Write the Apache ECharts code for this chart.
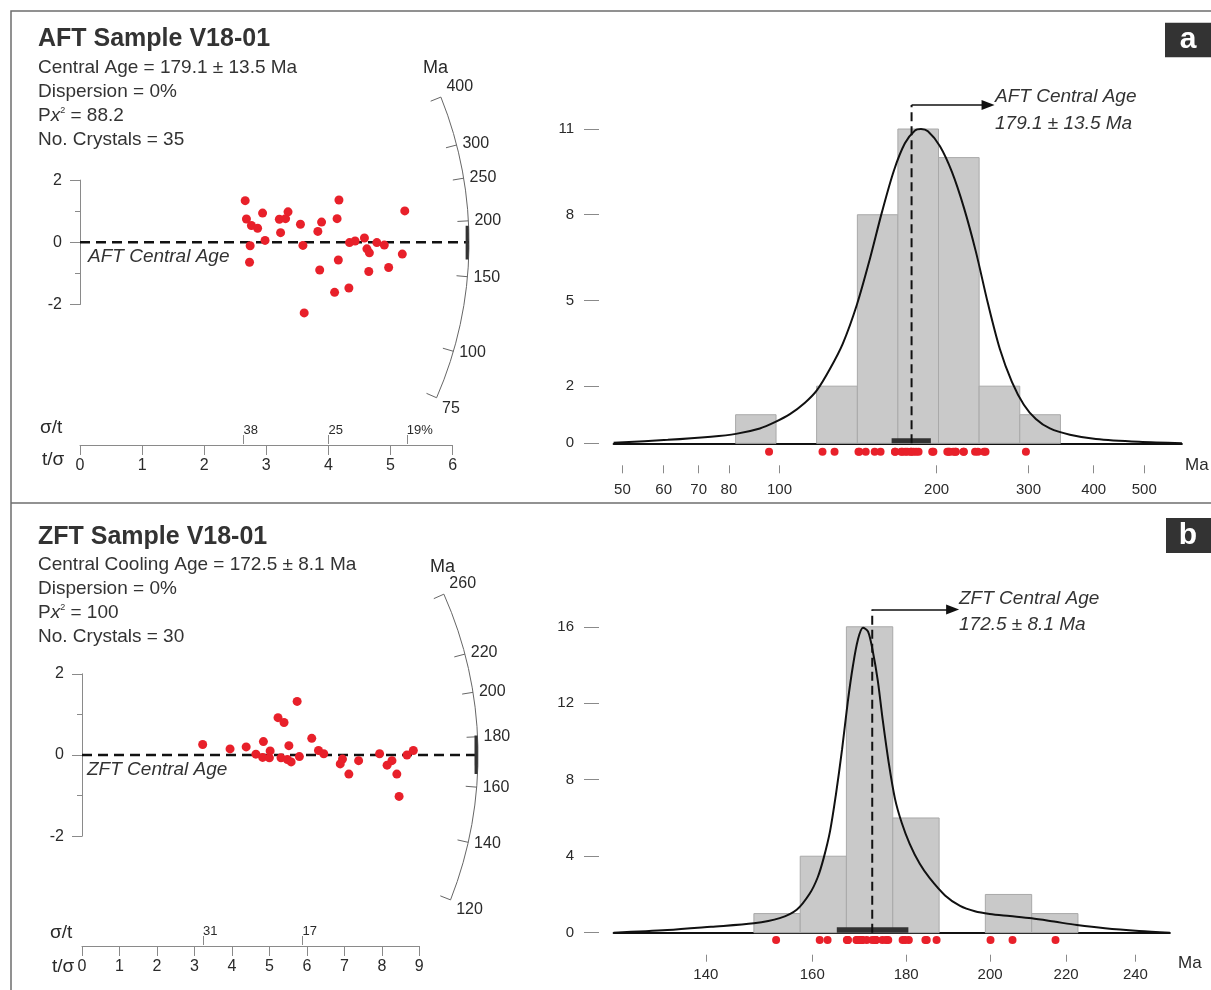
<!DOCTYPE html>
<html>
<head>
<meta charset="utf-8">
<title>V18-01 AFT / ZFT radial plots and age histograms</title>
<script src="https://cdn.jsdelivr.net/npm/echarts@6/dist/echarts.min.js"></script>
<style>
  html, body { margin: 0; padding: 0; background: #fff; }
  #chart { width: 1211px; height: 990px; }
</style>
</head>
<body>
<div id="chart"></div>
<script>
// ---------- panel a : AFT ----------
const aftCentral = 179.1;
const aftPrecision = [2.66, 2.68, 2.76, 2.86, 2.74, 2.73, 2.94, 2.98, 3.21, 3.31, 3.35, 3.23, 3.55, 3.59, 3.61, 3.83, 3.89,
  3.86, 4.17, 4.14, 4.16, 4.10, 4.33, 4.34, 4.43, 4.58, 4.62, 4.66, 4.65, 4.78, 4.90, 4.97, 5.19, 5.23];
const aftStdEst = [1.34, 0.75, 0.54, 0.45, -0.11, -0.64, 0.94, 0.06, 0.74, 0.76, 0.98, 0.31, 0.58, -0.10, -2.27, 0.35, 0.65,
  -0.89, 1.36, 0.76, -0.57, -1.61, -1.47, -0.01, 0.04, 0.14, -0.21, -0.34, -0.94, -0.01, -0.09, -0.81, -0.38, 1.01];
const aftGrainAges = [296.6, 237, 217.8, 209.7, 172, 141.7, 246.6, 182.7, 225.5, 225.3, 240, 197.2, 210.9, 174.2, 95.5, 196.2,
  211.7, 142.2, 248.2, 215.2, 156.2, 120.9, 127.5, 178.7, 180.7, 184.7, 171.1, 166.5, 146.3, 178.7, 175.8, 152.2, 166.5, 217.3];
const aftBinEdges = [82.4, 98.5, 117.8, 141.0, 168.6, 201.7, 241.3, 288.7, 345.4];
const aftBinCounts = [1, 0, 2, 8, 11, 10, 2, 1];
const aftKdeAges = [48.1, 61.1, 73.9, 82.5, 91.7, 98.0, 104.7, 111.9, 117.9, 124.9, 132.3, 140.7, 149.0, 157.2, 165.7,
  173.9, 181.8, 186.7, 192.5, 203.0, 214.0, 225.6, 237.9, 250.8, 264.4, 278.8, 293.9, 309.9, 329.7, 360.1, 403.9, 488.4, 590.3];
const aftKdeCounts = [0.02, 0.12, 0.23, 0.33, 0.52, 0.74, 1.02, 1.42, 1.85, 2.6, 3.5, 4.85, 6.45, 8.1, 9.55,
  10.5, 10.95, 11.0, 10.92, 10.4, 9.5, 8.25, 6.7, 4.9, 3.3, 2.15, 1.35, 0.85, 0.52, 0.3, 0.15, 0.05, 0];
const aftErrBar = [164, 195];
const aftArcTicks = [75, 100, 150, 200, 250, 300, 400];
const aftRelErrTicks = [38, 25, 19];
const aftHistTicksX = [50, 60, 70, 80, 100, 200, 300, 400, 500];
const aftHistTicksY = [0, 2, 5, 8, 11];
const aftStats = ['Central Age = 179.1 \u00b1 13.5 Ma', 'Dispersion = 0%', '88.2', 'No. Crystals = 35'];

// ---------- panel b : ZFT ----------
const zftCentral = 172.5;
const zftPrecision = [3.22, 3.95, 4.38, 4.64, 4.84, 4.82, 5.00, 5.02, 5.23, 5.39, 5.31, 5.48, 5.52, 5.58, 5.74, 5.80, 6.13,
  6.31, 6.45, 6.95, 6.89, 7.12, 7.38, 7.94, 8.14, 8.27, 8.40, 8.46, 8.67, 8.84];
const zftStdEst = [0.26, 0.15, 0.20, 0.02, 0.33, -0.06, -0.07, 0.10, 0.92, 0.80, -0.07, -0.11, 0.23, -0.17, 1.32, -0.04, 0.41,
  0.11, 0.03, -0.10, -0.22, -0.47, -0.14, 0.03, -0.25, -0.14, -0.47, -1.02, 0.00, 0.11];
const zftGrainAges = [187.0, 179.2, 180.6, 173.2, 184.7, 170.4, 170.1, 176.0, 205.7, 200.1, 170.2, 169.1, 179.8, 167.3, 217.1,
  171.3, 184.4, 175.5, 173.3, 170.0, 167.1, 161.5, 169.3, 173.2, 167.3, 169.6, 163.1, 152.9, 172.5, 174.7];
const zftBinEdges = [148.7, 157.6, 167.0, 177.0, 187.6, 198.8, 210.7, 223.3];
const zftBinCounts = [1, 4, 16, 6, 0, 2, 1];
const zftKdeAges = [124.7, 133.4, 140.9, 148.7, 153.6, 156.9, 159.5, 161.1, 162.3, 163.6, 164.8, 166.1, 167.3, 168.4, 169.4,
  170.5, 171.6, 172.6, 173.7, 174.8, 176.1, 177.5, 179.0, 180.8, 183.1, 185.4, 189.0, 192.6, 196.2, 199.9, 205.0,
  210.7, 216.7, 223.0, 231.0, 241.1, 250.6];
const zftKdeCounts = [0, 0.14, 0.31, 0.49, 0.76, 1.2, 2.05, 2.9, 3.9, 5.3, 7.2, 9.6, 12.1, 14.0, 15.3,
  15.95, 15.75, 14.75, 13.2, 11.1, 8.9, 7.0, 5.75, 4.65, 3.6, 2.85, 1.95, 1.4, 1.12, 0.98, 0.87,
  0.75, 0.58, 0.40, 0.23, 0.09, 0];
const zftErrBar = [165, 180.5];
const zftArcTicks = [120, 140, 160, 180, 200, 220, 260];
const zftRelErrTicks = [31, 17, 11];
const zftHistTicksX = [140, 160, 180, 200, 220, 240];
const zftHistTicksY = [0, 4, 8, 12, 16];
const zftStats = ['Central Cooling Age = 172.5 \u00b1 8.1 Ma', 'Dispersion = 0%', '100', 'No. Crystals = 30'];

// ---------- styling / layout ----------
const FONT = "'Liberation Sans', Arial, Helvetica, sans-serif";
const RED = '#e8202a';
const AXIS_GRAY = '#8a8a8a';
const TEXT = '#2a2a2a';

const panels = [
  {
    d: { central: aftCentral, precision: aftPrecision, stdEst: aftStdEst, grainAges: aftGrainAges,
         binEdges: aftBinEdges, binCounts: aftBinCounts, kdeAges: aftKdeAges, kdeCounts: aftKdeCounts,
         errBar: aftErrBar, arcTicks: aftArcTicks, relErrTicks: aftRelErrTicks,
         histTicksX: aftHistTicksX, histTicksY: aftHistTicksY, stats: aftStats },
    L: { name: 'AFT', title: 'AFT Sample V18-01', letter: 'a', titleY: 39.3, statY: 67.4,
         ox: 80, oy: 242.3, xpx: 62.1, ypx: 31.1, R: 389, xMax: 6, tAxisY: 445,
         maArc: [423, 68], sigT: [40, 428], tSig: [42, 460], ageLbl: [88, 257],
         hLeft: 613.6, hRight: 1181.9, hBase: 443.3, hPx: 28.57, hMax: 12, hMin: 48.1, hMaxAge: 590.3,
         tickRowOff: 22, tickLen: 8, tickLblMargin: 17, maHist: [1185, 465],
         arrowCount: 11.84, arrowTipAge: 251, ann: [995, 96.7, 123.3], dotOff: 8.4, errH: 5,
         box: [1165, 22.7, 34.6], letterY: 40 }
  },
  {
    d: { central: zftCentral, precision: zftPrecision, stdEst: zftStdEst, grainAges: zftGrainAges,
         binEdges: zftBinEdges, binCounts: zftBinCounts, kdeAges: zftKdeAges, kdeCounts: zftKdeCounts,
         errBar: zftErrBar, arcTicks: zftArcTicks, relErrTicks: zftRelErrTicks,
         histTicksX: zftHistTicksX, histTicksY: zftHistTicksY, stats: zftStats },
    L: { name: 'ZFT', title: 'ZFT Sample V18-01', letter: 'b', titleY: 537, statY: 564.4,
         ox: 82, oy: 755, xpx: 37.48, ypx: 40.6, R: 396, xMax: 9, tAxisY: 946,
         maArc: [430, 567], sigT: [50, 933], tSig: [52, 967], ageLbl: [87, 770],
         hLeft: 613.6, hRight: 1169.9, hBase: 932.7, hPx: 19.12, hMax: 17, hMin: 124.7, hMaxAge: 250.6,
         tickRowOff: 22, tickLen: 7, tickLblMargin: 13, maHist: [1178, 963],
         arrowCount: 16.91, arrowTipAge: 190.8, ann: [959, 598.3, 625], dotOff: 7.3, errH: 5.5,
         box: [1166, 518, 35], letterY: 535.5 }
  }
];

const grids = [], xAxes = [], yAxes = [], polars = [], angleAxes = [], radiusAxes = [], series = [], graphics = [];

function text(x, y, str, extra) {
  graphics.push({ type: 'text', x: x, y: y, silent: true, z: 10,
    style: Object.assign({ text: str, fill: TEXT, fontFamily: FONT, fontSize: 19, align: 'left', verticalAlign: 'middle' }, extra || {}) });
}

function addPanel(d, L) {
  const K = L.ypx / L.xpx;
  const angleOf = age => Math.atan(K * Math.log(age / d.central)) * 180 / Math.PI;
  const ageOf = ang => d.central * Math.exp(Math.tan(ang * Math.PI / 180) / K);

  // --- radial plot: scatter area (x reaches the age arc) ---
  const xReach = L.R / L.xpx;
  const g0 = grids.length;
  grids.push({ left: L.ox, top: L.oy - 2 * L.ypx, width: L.R, height: 4 * L.ypx, outerBoundsMode: 'none' });
  const xa0 = xAxes.length;
  xAxes.push({ gridIndex: g0, type: 'value', min: 0, max: xReach, show: false });
  const ya0 = yAxes.length;
  yAxes.push({ gridIndex: g0, type: 'value', min: -2, max: 2, interval: 2,
    axisLine: { show: true, onZero: false, lineStyle: { color: AXIS_GRAY, width: 1 } },
    axisTick: { show: true, length: 10, lineStyle: { color: AXIS_GRAY } },
    minorTick: { show: true, splitNumber: 2, length: 5, lineStyle: { color: AXIS_GRAY } },
    axisLabel: { margin: 18, color: TEXT, fontSize: 16, fontFamily: FONT },
    splitLine: { show: false }, minorSplitLine: { show: false } });
  series.push({ type: 'line', xAxisIndex: xa0, yAxisIndex: ya0, data: [[0, 0], [xReach, 0]],
    symbol: 'none', clip: false, silent: true, z: 2,
    lineStyle: { color: '#111', width: 2.5, type: [10, 6] } });
  series.push({ type: 'scatter', xAxisIndex: xa0, yAxisIndex: ya0, clip: false, silent: true, z: 4,
    data: d.precision.map((x, i) => [x, d.stdEst[i]]), symbolSize: 9, itemStyle: { color: RED, opacity: 1 } });

  // --- t/sigma and sigma/t scale under the radial plot ---
  const g1 = grids.length;
  grids.push({ left: L.ox, top: L.tAxisY - 1, width: L.xMax * L.xpx, height: 1, outerBoundsMode: 'none' });
  xAxes.push({ gridIndex: g1, type: 'value', position: 'bottom', min: 0, max: L.xMax, interval: 1,
    axisLine: { onZero: false, lineStyle: { color: AXIS_GRAY, width: 1 } },
    axisTick: { length: 10, lineStyle: { color: AXIS_GRAY } },
    axisLabel: { margin: 13, color: TEXT, fontSize: 16, fontFamily: FONT },
    splitLine: { show: false } });
  const relPos = d.relErrTicks.map(p => 100 / p);
  const lastRel = Math.min.apply(null, d.relErrTicks);
  xAxes.push({ gridIndex: g1, type: 'value', position: 'top', min: 0, max: L.xMax,
    axisLine: { show: false, onZero: false },
    axisTick: { length: 9, customValues: relPos, lineStyle: { color: AXIS_GRAY } },
    axisLabel: { customValues: relPos, margin: 7, align: 'left', color: TEXT, fontSize: 13, fontFamily: FONT,
      formatter: v => { const p = Math.round(100 / v); return p === lastRel ? p + '%' : String(p); } },
    splitLine: { show: false } });
  yAxes.push({ gridIndex: g1, type: 'value', min: 0, max: 1, show: false });

  // --- age arc (polar angle axis) ---
  const pi = polars.length;
  polars.push({ center: [L.ox, L.oy], radius: L.R });
  const aMin = angleOf(d.arcTicks[0]);
  const aMax = angleOf(d.arcTicks[d.arcTicks.length - 1]);
  const tickAngles = d.arcTicks.map(angleOf);
  angleAxes.push({ polarIndex: pi, type: 'value', min: aMin, max: aMax, startAngle: aMin, endAngle: aMax, clockwise: false,
    axisLine: { show: true, lineStyle: { color: '#666', width: 1 } },
    axisTick: { show: true, inside: true, length: 11, customValues: tickAngles, lineStyle: { color: '#666' } },
    axisLabel: { customValues: tickAngles, margin: 6, color: TEXT, fontSize: 16, fontFamily: FONT,
      formatter: v => String(Math.round(ageOf(v))) },
    splitLine: { show: false }, splitArea: { show: false } });
  radiusAxes.push({ polarIndex: pi, type: 'value', min: 0, max: 1, show: false });
  series.push({ type: 'line', coordinateSystem: 'polar', polarIndex: pi, silent: true, symbol: 'none', z: 5,
    data: [[1, angleOf(d.errBar[0])], [1, angleOf(d.errBar[1])]],
    lineStyle: { color: '#333', width: 6, cap: 'butt' } });

  // --- histogram + KDE ---
  const g2 = grids.length;
  grids.push({ left: L.hLeft, top: L.hBase - L.hMax * L.hPx, width: L.hRight - L.hLeft, height: L.hMax * L.hPx, outerBoundsMode: 'none' });
  const lmin = Math.log10(L.hMin), lmax = Math.log10(L.hMaxAge);
  const xa2 = xAxes.length;
  xAxes.push({ gridIndex: g2, type: 'value', min: lmin, max: lmax,
    axisLine: { show: true, onZero: false, lineStyle: { color: '#111', width: 2 } },
    axisTick: { show: false }, axisLabel: { show: false }, splitLine: { show: false } });
  const xTicks = d.histTicksX.map(v => Math.log10(v));
  xAxes.push({ gridIndex: g2, type: 'value', min: lmin, max: lmax, position: 'bottom', offset: L.tickRowOff,
    axisLine: { show: false, onZero: false },
    axisTick: { show: true, length: L.tickLen, customValues: xTicks, lineStyle: { color: AXIS_GRAY } },
    axisLabel: { customValues: xTicks, margin: L.tickLblMargin, color: TEXT, fontSize: 15, fontFamily: FONT,
      formatter: v => String(Math.round(Math.pow(10, v))) },
    splitLine: { show: false } });
  const ya2 = yAxes.length;
  yAxes.push({ gridIndex: g2, type: 'value', min: 0, max: L.hMax, offset: 14.6,
    axisLine: { show: false },
    axisTick: { show: true, length: 15, customValues: d.histTicksY, lineStyle: { color: AXIS_GRAY } },
    axisLabel: { customValues: d.histTicksY, margin: 25, color: TEXT, fontSize: 15, fontFamily: FONT },
    splitLine: { show: false } });

  series.push({ type: 'custom', xAxisIndex: xa2, yAxisIndex: ya2, silent: true, z: 1,
    data: d.binCounts.map((c, i) => [Math.log10(d.binEdges[i]), Math.log10(d.binEdges[i + 1]), c]).filter(r => r[2] > 0),
    encode: { x: [0, 1], y: 2 },
    renderItem: (params, api) => {
      const a = api.coord([api.value(0), 0]);
      const b = api.coord([api.value(1), api.value(2)]);
      return { type: 'rect', shape: { x: a[0], y: b[1], width: b[0] - a[0], height: a[1] - b[1] },
        style: { fill: '#c9c9c9', stroke: '#a9a9a9', lineWidth: 1 } };
    } });
  series.push({ type: 'line', xAxisIndex: xa2, yAxisIndex: ya2, silent: true, z: 3,
    data: d.kdeAges.map((a, i) => [Math.log10(a), d.kdeCounts[i]]),
    smooth: 0.3, symbol: 'none', lineStyle: { color: '#111', width: 2 } });
  series.push({ type: 'custom', xAxisIndex: xa2, yAxisIndex: ya2, silent: true, z: 4,
    data: [[Math.log10(d.errBar[0]), Math.log10(d.errBar[1])]], encode: { x: [0, 1] },
    renderItem: (params, api) => {
      const a = api.coord([api.value(0), 0]);
      const b = api.coord([api.value(1), 0]);
      return { type: 'rect', shape: { x: a[0], y: a[1] - L.errH, width: b[0] - a[0], height: L.errH }, style: { fill: '#333' } };
    } });
  series.push({ type: 'scatter', xAxisIndex: xa2, yAxisIndex: ya2, clip: false, silent: true, z: 5,
    data: d.grainAges.map(a => [Math.log10(a), -L.dotOff / L.hPx]), symbolSize: 8, itemStyle: { color: RED, opacity: 1 } });
  const lc = Math.log10(d.central);
  series.push({ type: 'line', xAxisIndex: xa2, yAxisIndex: ya2, silent: true, z: 6, symbol: 'none',
    data: [[lc, 0], [lc, L.arrowCount]], lineStyle: { color: '#111', width: 2, type: [9, 5] },
    markLine: { silent: true, symbol: ['none', 'triangle'], symbolSize: [10, 13], label: { show: false },
      lineStyle: { color: '#111', width: 1.5, type: 'solid' },
      data: [[{ coord: [lc, L.arrowCount] }, { coord: [Math.log10(L.arrowTipAge), L.arrowCount] }]] } });

  // --- texts ---
  text(38, L.titleY, L.title, { fontSize: 25, fontWeight: 'bold', fill: '#333' });
  d.stats.forEach((s, i) => {
    const y = L.statY + i * 24;
    if (i === 2) {
      graphics.push({ type: 'text', x: 38, y: y, silent: true, z: 10,
        style: { text: '{p|P}{x|x}{s|2}{p| = ' + s + '}', align: 'left', verticalAlign: 'middle',
          rich: { p: { fontSize: 19, fontFamily: FONT, fill: '#333' },
                  x: { fontSize: 19, fontFamily: FONT, fontStyle: 'italic', fill: '#333' },
                  s: { fontSize: 9, fontFamily: FONT, fill: '#333', verticalAlign: 'top' } } } });
    } else {
      text(38, y, s, { fill: '#333' });
    }
  });
  text(L.maArc[0], L.maArc[1], 'Ma', { fontSize: 18 });
  text(L.sigT[0], L.sigT[1], '\u03c3/t', { fontSize: 19 });
  text(L.tSig[0], L.tSig[1], 't/\u03c3', { fontSize: 19 });
  text(L.ageLbl[0], L.ageLbl[1], L.name + ' Central Age', { fontSize: 19, fontStyle: 'italic', fill: '#333' });
  text(L.maHist[0], L.maHist[1], 'Ma', { fontSize: 17 });
  text(L.ann[0], L.ann[1], L.name + ' Central Age', { fontSize: 19, fontStyle: 'italic', fill: '#333' });
  text(L.ann[0], L.ann[2], d.stats[0].replace(/^.*= /, ''), { fontSize: 19, fontStyle: 'italic', fill: '#333' });

  // panel letter box
  graphics.push({ type: 'rect', silent: true, z: 10, shape: { x: L.box[0], y: L.box[1], width: 60, height: L.box[2] }, style: { fill: '#333' } });
  text(1188, L.letterY, L.letter, { fontSize: 30, fontWeight: 'bold', fill: '#fff', align: 'center' });
}

panels.forEach(p => addPanel(p.d, p.L));

// frame and divider
graphics.push({ type: 'rect', silent: true, z: 0, shape: { x: 11, y: 11, width: 1300, height: 1100 },
  style: { fill: 'none', stroke: '#6e6e6e', lineWidth: 1.5 } });
graphics.push({ type: 'line', silent: true, z: 0, shape: { x1: 11, y1: 503, x2: 1211, y2: 503 },
  style: { stroke: '#6e6e6e', lineWidth: 1.5 } });

const chart = echarts.init(document.getElementById('chart'), null, { renderer: 'canvas' });
chart.setOption({
  backgroundColor: '#fff',
  animation: false,
  grid: grids,
  xAxis: xAxes,
  yAxis: yAxes,
  polar: polars,
  angleAxis: angleAxes,
  radiusAxis: radiusAxes,
  series: series,
  graphic: graphics
});
</script>
</body>
</html>
